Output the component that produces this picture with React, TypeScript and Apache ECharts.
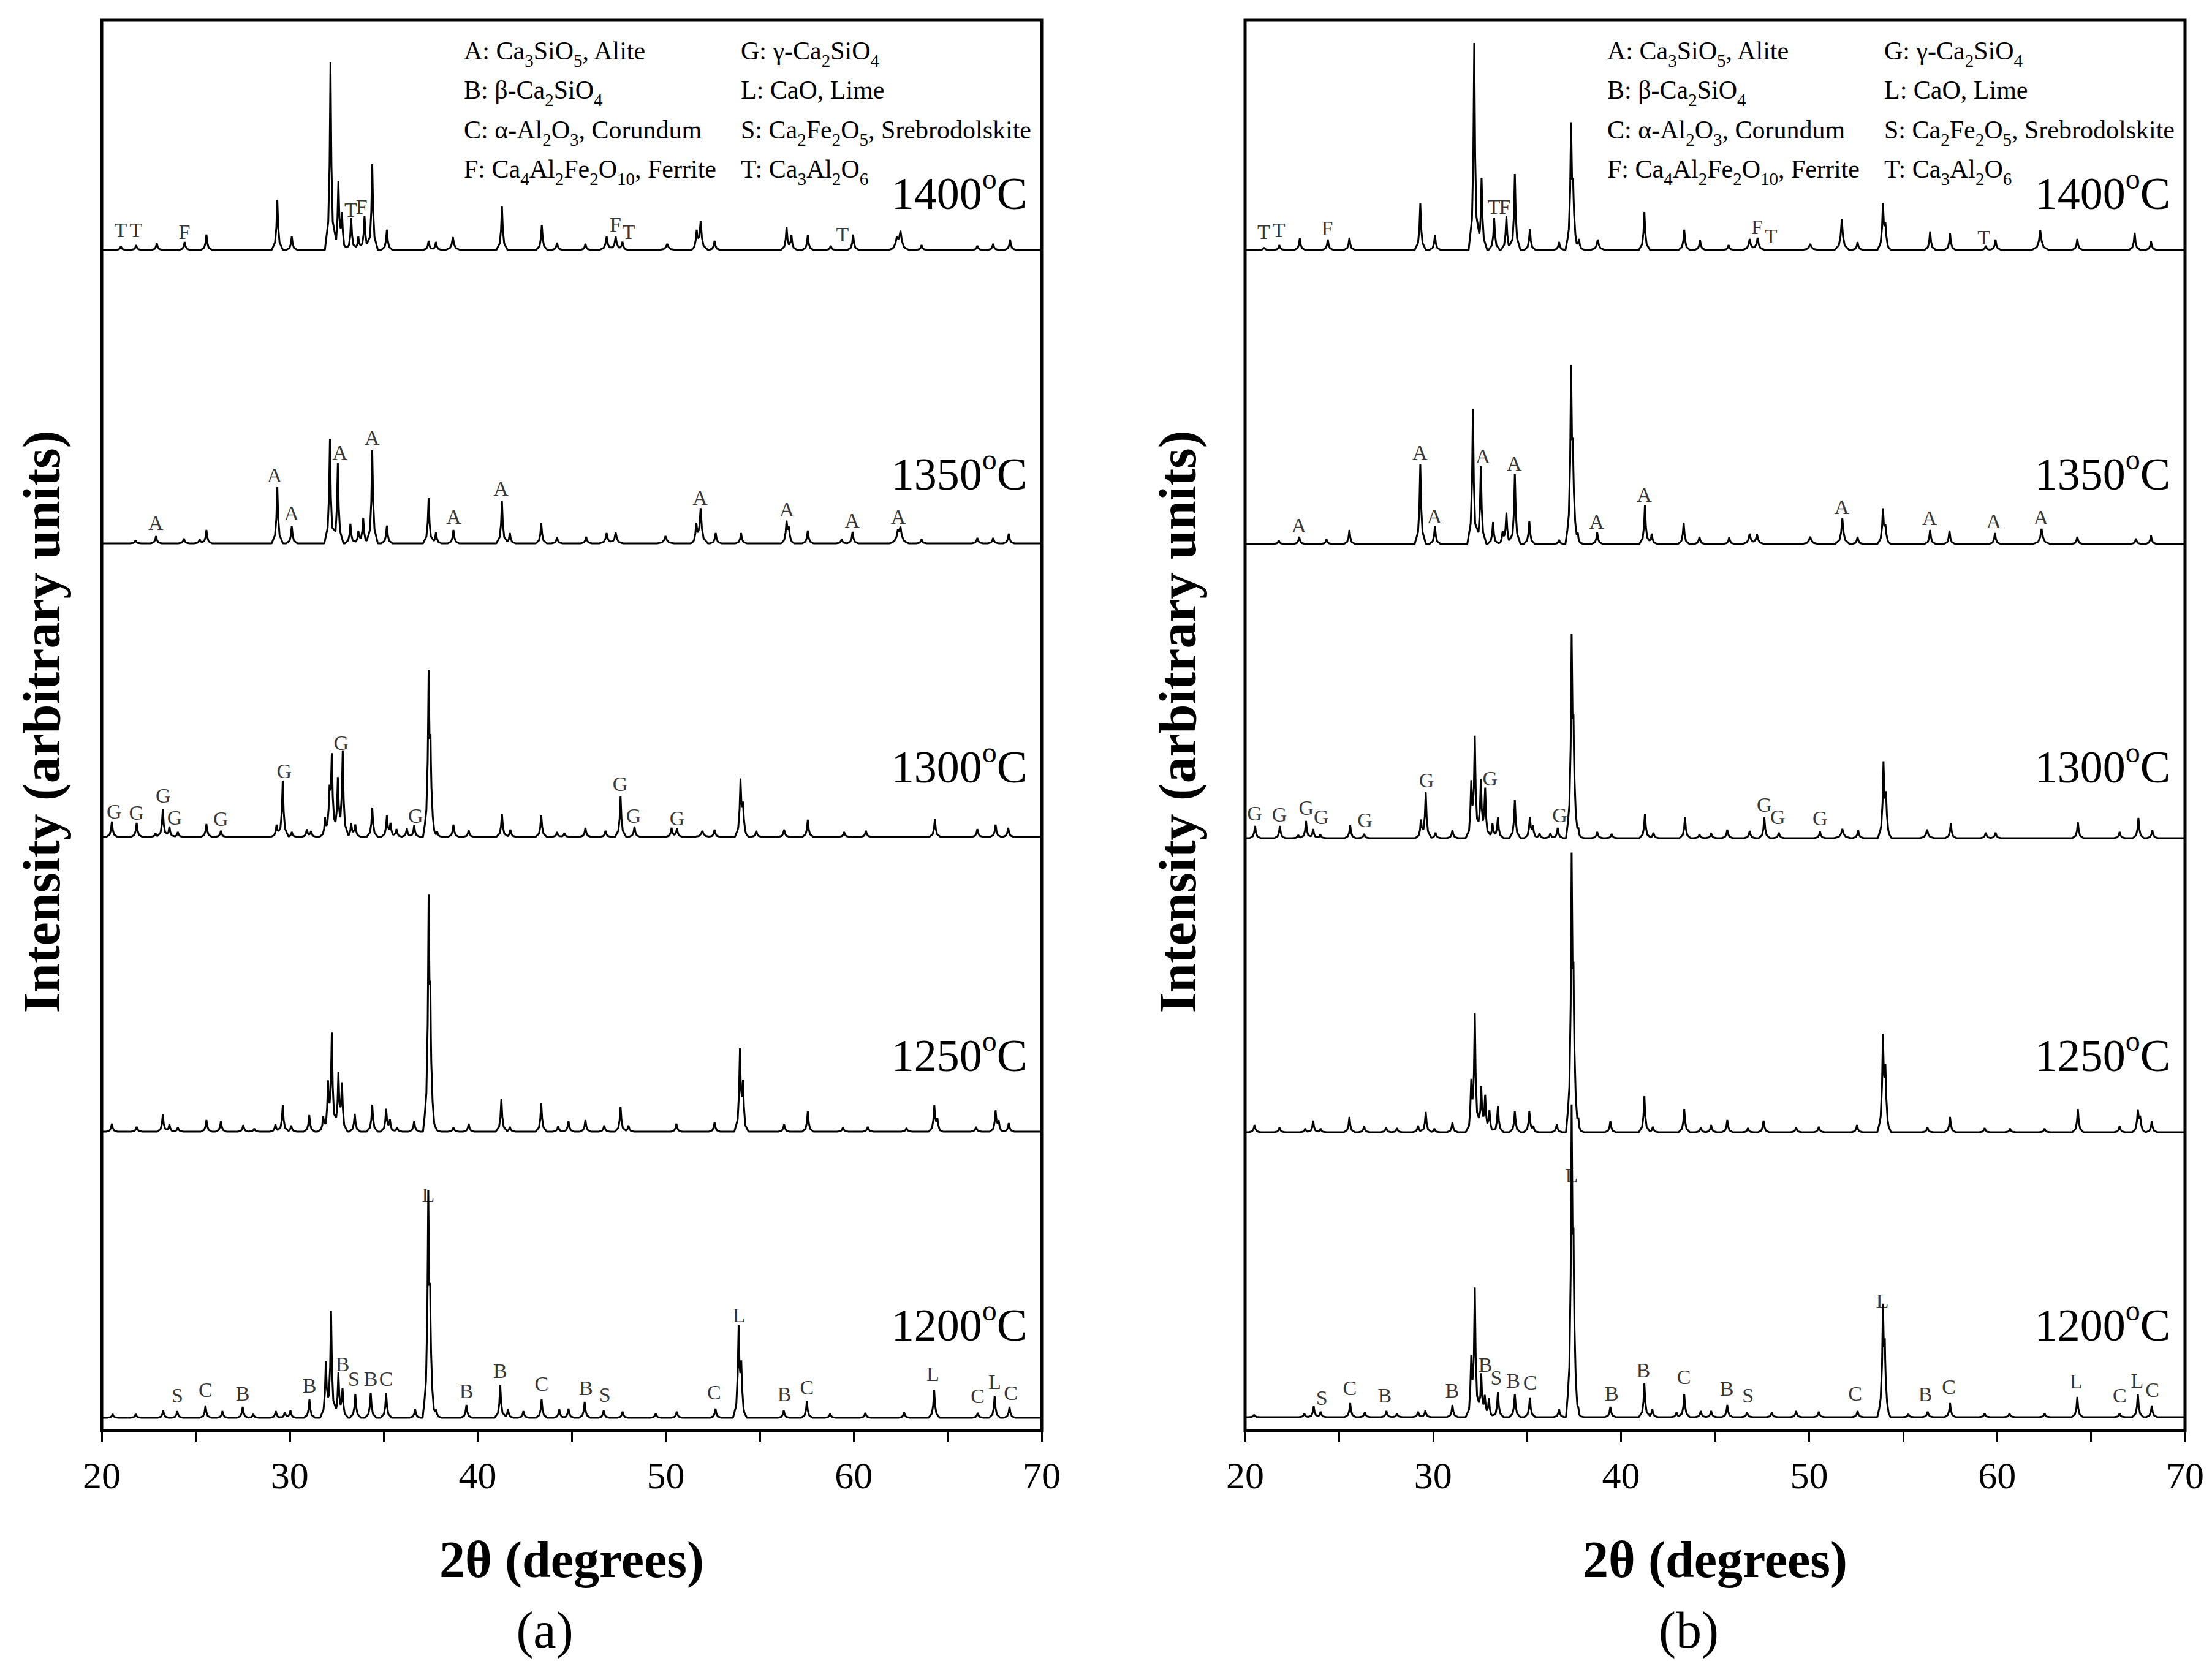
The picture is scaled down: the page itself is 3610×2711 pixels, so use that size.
import React, { useEffect, useRef } from "react";
import * as echarts from "echarts";

// ---------- data (2θ in degrees, intensity in arbitrary units) ----------
const TEMPS = ["1200", "1250", "1300", "1350", "1400"];
const BASE_A = [21, 488, 969, 1448, 1927];
const BASE_B = [22, 487, 967, 1447, 1927];

// peaks: [2θ, height above baseline, optional width factor]
const A_1200 = [[20.58,6],[21.81,6],[23.27,12],[24.02,11],[25.52,20],[26.42,11],[27.5,18],[28.06,6],[29.26,11],[29.74,9],[30.04,12],[31.05,30],[31.92,89],[32.2,173],[32.59,71],[32.81,44],[33.49,39],[34.31,41],[35.13,40],[36.67,14],[37.37,339],[37.47,140],[37.79,14],[39.4,21],[41.2,53],[41.61,14],[42.43,11],[43.4,30],[44.34,14],[44.83,15],[45.69,26],[46.7,12],[47.71,10],[49.47,7],[50.59,10],[52.65,15],[53.88,141],[54.02,75],[56.28,12],[57.51,27],[58.75,7],[60.62,8],[62.68,9],[64.28,46],[66.6,8],[67.5,35],[68.29,18]];
const A_1250 = [[20.54,13],[21.86,8],[23.25,28],[23.6,12],[24.05,7],[25.57,19],[26.34,17],[27.53,11],[28.11,5],[29.24,12],[29.63,43],[30.08,10],[31.04,27],[31.78,23],[32.04,70],[32.24,156],[32.59,91],[32.78,72],[33.46,29],[34.39,44],[35.13,36],[35.33,17],[35.71,7],[36.62,17],[37.39,346],[37.48,150],[37.78,6],[38.71,7],[39.52,13],[41.26,54],[41.71,8],[43.38,46],[44.28,9],[44.83,17],[45.73,19],[46.73,10],[47.6,41],[48.02,10],[50.57,13],[52.6,15],[53.95,128],[54.11,70],[56.3,12],[57.56,33],[59.43,7],[60.75,8],[62.81,6],[64.29,41],[64.45,18],[66.51,8],[67.55,33],[67.71,15],[68.25,14]];
const A_1300 = [[20.54,25],[21.86,23],[22.86,6],[23.25,46],[23.6,17],[24.05,8],[25.57,21],[26.34,10],[29.3,20],[29.63,92],[30.11,8],[30.91,12],[31.14,9],[31.88,29],[32.12,65],[32.24,127],[32.56,93],[32.82,138],[33.27,21],[33.49,19],[34.39,48],[35.17,33],[35.36,20],[35.68,13],[36.23,14],[36.62,19],[37.39,246],[37.49,110],[37.84,9],[38.71,20],[39.52,11],[41.29,38],[41.74,12],[43.38,36],[44.22,8],[44.61,6],[45.73,15],[46.8,10],[47.6,66],[48.34,17],[50.31,15],[50.6,14],[51.95,10,1.5],[52.6,12],[53.98,89],[54.11,45],[54.82,10],[56.3,12],[57.56,28],[59.49,8],[60.65,10],[64.32,29],[66.58,13],[67.55,20],[68.22,15]];
const A_1350 = [[21.8,5],[22.89,12],[24.37,8],[25.21,7],[25.57,22],[29.34,92],[30.11,28],[32.14,171],[32.56,131],[33.23,32],[33.65,19],[33.91,41],[34.39,152],[35.17,29],[37.39,74],[37.78,18],[38.71,22],[41.29,69],[41.71,17],[43.38,33],[44.22,10],[45.77,11],[46.86,17,1.3],[47.34,18,1.3],[49.99,12,1.5],[51.63,28],[51.86,56,1.3],[52.66,17],[54.01,17],[56.43,34],[56.55,23],[57.56,21],[59.36,7],[59.94,19],[62.35,17,1.5],[62.49,23,1.5],[63.61,7],[66.58,9],[67.42,9],[68.25,16]];
const A_1400 = [[21.02,6],[21.83,8],[22.93,11],[24.41,13],[25.57,25],[29.34,82],[30.11,22],[32.17,306],[32.59,108],[32.78,52],[33.27,52],[33.65,22],[33.98,56],[34.39,140],[35.17,33],[37.39,15],[37.78,13],[38.68,21,1.3],[41.29,71],[43.41,41],[44.22,12],[45.73,10],[46.86,22,1.3],[47.34,22,1.3],[47.7,13],[50.08,10,1.5],[51.65,28],[51.86,45,1.3],[52.6,15],[56.43,37],[56.69,23],[57.56,24],[58.78,7],[59.97,25],[62.3,18,1.5],[62.49,29,1.5],[63.61,8],[66.58,7],[67.42,10],[68.32,17]];

const B_1200 = [[20.48,4],[23.15,6],[23.65,18],[24.02,9],[25.59,23],[26.37,8],[27.52,10],[28.08,6],[29.2,9],[29.59,11],[31.03,20],[32.03,83],[32.22,204],[32.56,69],[32.75,28],[32.97,29],[33.45,41],[34.35,38],[35.15,32],[36.7,13],[37.37,463],[37.47,200],[37.73,9],[39.43,17],[41.24,55],[41.66,13],[42.95,8],[43.36,38],[44.24,10],[44.79,10],[45.65,20],[46.7,8],[48.02,8],[49.31,10],[50.52,9],[52.58,10],[53.93,164],[54.03,90],[55.28,5],[56.31,9],[57.5,23],[59.34,6],[60.66,6],[62.53,6],[64.27,33],[66.52,6],[67.49,38],[68.23,19]];
const B_1250 = [[20.5,12],[21.83,8],[23.2,6],[23.62,19],[24.02,6],[25.55,25],[26.33,10],[27.5,8],[28.08,7],[29.2,11],[29.61,33],[30.07,6],[31.03,16],[32.03,70],[32.22,188],[32.56,71],[32.77,54],[33.0,33],[33.45,43],[34.35,34],[35.12,34],[35.33,8],[36.58,13],[37.37,414],[37.47,180],[37.73,18],[39.43,18],[41.24,59],[41.69,9],[43.36,38],[44.24,8],[44.79,12],[45.65,20],[46.75,7],[47.58,19],[49.31,8],[50.52,9],[52.55,12],[53.93,148],[54.06,91],[56.3,8],[57.5,25],[59.34,7],[60.69,6],[62.53,6],[64.3,38],[66.52,10],[67.49,34],[67.61,22],[68.23,18]];
const B_1300 = [[20.53,20],[21.85,20],[22.83,5],[23.24,28],[23.62,15],[24.0,6],[25.59,21],[26.33,7],[29.35,28],[29.61,74],[30.13,9],[31.03,13],[32.03,80],[32.22,160],[32.54,92],[32.77,77],[33.16,24],[33.45,34],[34.35,62],[35.15,33],[35.31,17],[35.66,8],[36.24,8],[36.63,17],[37.37,303],[37.47,130],[37.73,13],[38.73,10],[39.5,7],[41.27,40],[41.72,9],[43.4,34],[44.17,6],[44.79,8],[45.65,14],[46.84,12],[47.62,34],[48.39,9],[50.58,11],[51.77,15,1.5],[52.61,13],[53.96,117],[54.09,60],[56.28,14,1.3],[57.54,24],[59.4,9],[59.92,9],[64.3,26],[66.52,10],[67.52,33],[68.26,13]];
const B_1350 = [[21.79,6],[22.88,12],[24.33,8],[25.55,23],[29.32,130],[30.1,29],[32.12,221],[32.54,127],[33.19,36],[33.7,17],[33.9,50],[34.35,114],[35.12,38],[36.7,7],[37.34,267],[37.44,110],[37.7,15],[38.73,19],[41.27,64],[41.63,17],[43.33,35],[44.17,12],[45.75,11],[46.84,17,1.3],[47.23,16,1.3],[50.06,12,1.5],[51.77,42,1.3],[52.58,12],[53.93,55],[54.06,25],[56.44,23],[57.47,22],[59.89,18],[62.37,25,1.5],[64.27,12],[67.39,9],[68.19,14]];
const B_1400 = [[21.01,4],[21.82,8],[22.91,19],[24.4,17],[25.55,20],[29.32,76],[30.1,24],[32.19,338],[32.58,118],[33.25,52],[33.9,55],[34.35,124],[35.15,34],[36.7,13],[37.34,193],[37.45,80],[37.76,18],[38.76,17,1.3],[41.24,62],[43.36,33],[44.2,16],[45.72,8],[46.84,18,1.3],[47.26,20,1.3],[50.06,10,1.5],[51.74,50,1.3],[52.58,13],[53.93,72],[54.06,35],[56.44,30],[57.5,27],[59.4,7],[59.92,17],[62.3,32,1.5],[64.27,18],[67.32,28],[68.19,14]];

// phase labels: [2θ, intensity position, letter]
const LA_1200 = [[24.02,58,"S"],[25.52,67,"C"],[27.5,61,"B"],[31.05,74,"B"],[32.81,109,"B"],[33.41,85,"S"],[34.31,85,"B"],[35.13,85,"C"],[37.37,385,"L"],[39.4,65,"B"],[41.2,98,"B"],[43.4,77,"C"],[45.76,70,"B"],[46.77,59,"S"],[52.57,63,"C"],[53.9,189,"L"],[56.31,60,"B"],[57.51,71,"C"],[64.21,93,"L"],[66.6,57,"C"],[67.5,80,"L"],[68.36,62,"C"]];
const LA_1300 = [[20.66,1011,"G"],[21.85,1009,"G"],[23.27,1037,"G"],[23.88,1001,"G"],[26.33,999,"G"],[29.71,1077,"G"],[32.74,1123,"G"],[36.7,1004,"G"],[47.58,1056,"G"],[48.29,1004,"G"],[50.61,1000,"G"]];
const LA_1350 = [[22.88,1482,"A"],[29.19,1560,"A"],[30.1,1498,"A"],[32.67,1597,"A"],[34.38,1621,"A"],[38.73,1492,"A"],[41.24,1538,"A"],[51.83,1523,"A"],[56.44,1504,"A"],[59.92,1486,"A"],[62.37,1492,"A"]];
const LA_1400 = [[21.01,1960,"T"],[21.82,1960,"T"],[24.4,1957,"F"],[33.25,1993,"T"],[33.83,1998,"F"],[47.33,1969,"F"],[48.03,1957,"T"],[59.4,1953,"T"]];

const LB_1200 = [[24.08,54,"S"],[25.57,70,"C"],[27.43,58,"B"],[31.01,66,"B"],[32.78,108,"B"],[33.36,87,"S"],[34.26,82,"B"],[35.16,79,"C"],[37.37,417,"L"],[39.5,61,"B"],[41.18,99,"B"],[43.34,88,"C"],[45.62,69,"B"],[46.75,58,"S"],[52.45,61,"C"],[53.9,212,"L"],[56.18,60,"B"],[57.44,72,"C"],[64.2,81,"L"],[66.52,58,"C"],[67.45,82,"L"],[68.26,67,"C"]];
const LB_1300 = [[20.51,1008,"G"],[21.83,1006,"G"],[23.25,1017,"G"],[24.05,1002,"G"],[26.37,997,"G"],[29.65,1062,"G"],[33.03,1065,"G"],[36.74,1005,"G"],[47.62,1022,"G"],[48.33,1002,"G"],[50.58,1000,"G"]];
const LB_1350 = [[22.86,1478,"A"],[29.3,1597,"A"],[30.07,1493,"A"],[32.65,1591,"A"],[34.32,1579,"A"],[38.7,1484,"A"],[41.24,1528,"A"],[51.74,1508,"A"],[56.41,1490,"A"],[59.82,1485,"A"],[62.33,1491,"A"]];
const LB_1400 = [[20.99,1957,"T"],[21.8,1960,"T"],[24.37,1963,"F"],[33.23,1998,"T"],[33.81,1998,"F"],[47.23,1965,"F"],[47.97,1950,"T"],[59.3,1948,"T"]];

const LEGEND_COL1 = [
  "A: Ca{s|3}SiO{s|5}, Alite",
  "B: β-Ca{s|2}SiO{s|4}",
  "C: α-Al{s|2}O{s|3}, Corundum",
  "F: Ca{s|4}Al{s|2}Fe{s|2}O{s|10}, Ferrite",
];
const LEGEND_COL2 = [
  "G: γ-Ca{s|2}SiO{s|4}",
  "L: CaO, Lime",
  "S: Ca{s|2}Fe{s|2}O{s|5}, Srebrodolskite",
  "T: Ca{s|3}Al{s|2}O{s|6}",
];

// ---------- layout ----------
const FONT = "'Liberation Serif', 'Times New Roman', serif";
const GRID_LEFT = [166, 2032];
const GRID_W = 1534;
const GRID_TOP = 33;
const GRID_H = 2302;
const Y_MAX = 2302;
const TEMP_Y = [2163, 1723, 1252, 774, 316];
const LEG_ROWS = [83, 147, 212, 276];

const PROF_DX = [0, 0.05, 0.12, 0.3];
const PROF_F = [1, 0.45, 0.15, 0];

function profile(u: number) {
  if (u >= PROF_DX[PROF_DX.length - 1]) return 0;
  for (let i = 0; i < PROF_DX.length - 1; i++) {
    if (u >= PROF_DX[i] && u <= PROF_DX[i + 1]) {
      const t = (u - PROF_DX[i]) / (PROF_DX[i + 1] - PROF_DX[i]);
      return PROF_F[i] + (PROF_F[i + 1] - PROF_F[i]) * t;
    }
  }
  return 0;
}

function buildTrace(peaks: number[][], base: number) {
  const xs = new Set<number>([20, 70]);
  peaks.forEach((p) => {
    const w = p[2] || 1;
    PROF_DX.forEach((d) => {
      xs.add(Math.round((p[0] - d * w) * 1000) / 1000);
      xs.add(Math.round((p[0] + d * w) * 1000) / 1000);
    });
  });
  const sorted = Array.from(xs).filter((x) => x >= 20 && x <= 70).sort((a, b) => a - b);
  return sorted.map((x) => {
    let y = base;
    peaks.forEach((p) => {
      const w = p[2] || 1;
      y += p[1] * profile(Math.abs(x - p[0]) / w);
    });
    return [x, y];
  });
}

export default function App() {
  const ref = useRef<HTMLDivElement>(null);
  useEffect(() => {
    document.body.style.margin = "0";
    document.body.style.overflow = "hidden";
    if (!ref.current) return;
    const chart = echarts.init(ref.current, undefined, { renderer: "svg" });

    const panels = [
      { peaks: [A_1200, A_1250, A_1300, A_1350, A_1400], base: BASE_A, labels: [LA_1200, LA_1300, LA_1350, LA_1400] },
      { peaks: [B_1200, B_1250, B_1300, B_1350, B_1400], base: BASE_B, labels: [LB_1200, LB_1300, LB_1350, LB_1400] },
    ];

    const series: any[] = [];
    panels.forEach((pn, gi) => {
      pn.peaks.forEach((pk, ti) => {
        series.push({
          type: "line",
          name: `${"ab"[gi]}-${TEMPS[ti]}`,
          xAxisIndex: gi,
          yAxisIndex: gi,
          data: buildTrace(pk as number[][], pn.base[ti]),
          showSymbol: false,
          symbol: "none",
          silent: true,
          lineStyle: { color: "#000", width: 3 },
          z: 2,
        });
      });
      const all: any[] = [];
      pn.labels.forEach((l) => l.forEach((d) => all.push(d)));
      series.push({
        type: "scatter",
        xAxisIndex: gi,
        yAxisIndex: gi,
        data: all,
        symbolSize: 1,
        silent: true,
        itemStyle: { color: "rgba(0,0,0,0)" },
        label: {
          show: true,
          position: "inside",
          formatter: (p: any) => p.value[2],
          fontSize: 34,
          fontFamily: FONT,
          color: "#000",
        },
        z: 3,
      });
    });

    const graphic: any[] = [];
    const txt = (x: number, y: number, text: string, size: number, opts: any = {}) => ({
      type: "text",
      x,
      y,
      rotation: opts.rotation || 0,
      silent: true,
      style: {
        text,
        fill: "#000",
        fontSize: size,
        fontFamily: FONT,
        fontWeight: opts.bold ? "bold" : "normal",
        align: opts.align || "center",
        textAlign: opts.align || "center",
        verticalAlign: "middle",
        textVerticalAlign: "middle",
        rich: opts.rich,
      },
      z: 10,
    });
    const subRich = { s: { fontSize: 29, fontFamily: FONT, fill: "#000", color: "#000", padding: [32, 0, 0, 0] } };
    const supRich = { o: { fontSize: 48, fontFamily: FONT, fill: "#000", color: "#000", padding: [0, 0, 50, 0] } };

    [0, 1].forEach((gi) => {
      const left = GRID_LEFT[gi];
      const cx = left + GRID_W / 2;
      graphic.push(txt(cx, 2545, "2θ (degrees)", 84, { bold: true }));
      graphic.push(txt(gi === 0 ? 889 : 2756, 2660, gi === 0 ? "(a)" : "(b)", 84));
      graphic.push(txt(gi === 0 ? 68 : 1922, GRID_TOP + GRID_H / 2 - 6, "Intensity (arbitrary units)", 86, { bold: true, rotation: Math.PI / 2 }));
      TEMPS.forEach((t, ti) => {
        graphic.push(txt(left + GRID_W - 24, TEMP_Y[ti], `${t}{o|o}C`, 74, { align: "right", rich: supRich }));
      });
      LEGEND_COL1.forEach((s, ri) => graphic.push(txt(left + 591, LEG_ROWS[ri], s, 42, { align: "left", rich: subRich })));
      LEGEND_COL2.forEach((s, ri) => graphic.push(txt(left + 1043, LEG_ROWS[ri], s, 42, { align: "left", rich: subRich })));
    });

    const option: any = {
      animation: false,
      backgroundColor: "#fff",
      grid: [0, 1].map((gi) => ({
        left: GRID_LEFT[gi],
        top: GRID_TOP,
        width: GRID_W,
        height: GRID_H,
        show: true,
        borderColor: "#000",
        borderWidth: 5,
        backgroundColor: "rgba(0,0,0,0)",
      })),
      xAxis: [0, 1].map((gi) => ({
        gridIndex: gi,
        type: "value",
        min: 20,
        max: 70,
        interval: 5,
        axisLine: { show: false },
        axisTick: { show: true, inside: false, length: 18, lineStyle: { color: "#000", width: 3 } },
        axisLabel: {
          formatter: (v: number) => (v % 10 === 0 ? String(v) : ""),
          fontSize: 62,
          fontFamily: FONT,
          color: "#000",
          margin: 42,
        },
        splitLine: { show: false },
      })),
      yAxis: [0, 1].map((gi) => ({
        gridIndex: gi,
        type: "value",
        min: 0,
        max: Y_MAX,
        show: false,
        splitLine: { show: false },
      })),
      series,
      graphic,
    };
    chart.setOption(option);
    return () => chart.dispose();
  }, []);
  return <div ref={ref} style={{ width: 3610, height: 2711, background: "#fff" }} />;
}
